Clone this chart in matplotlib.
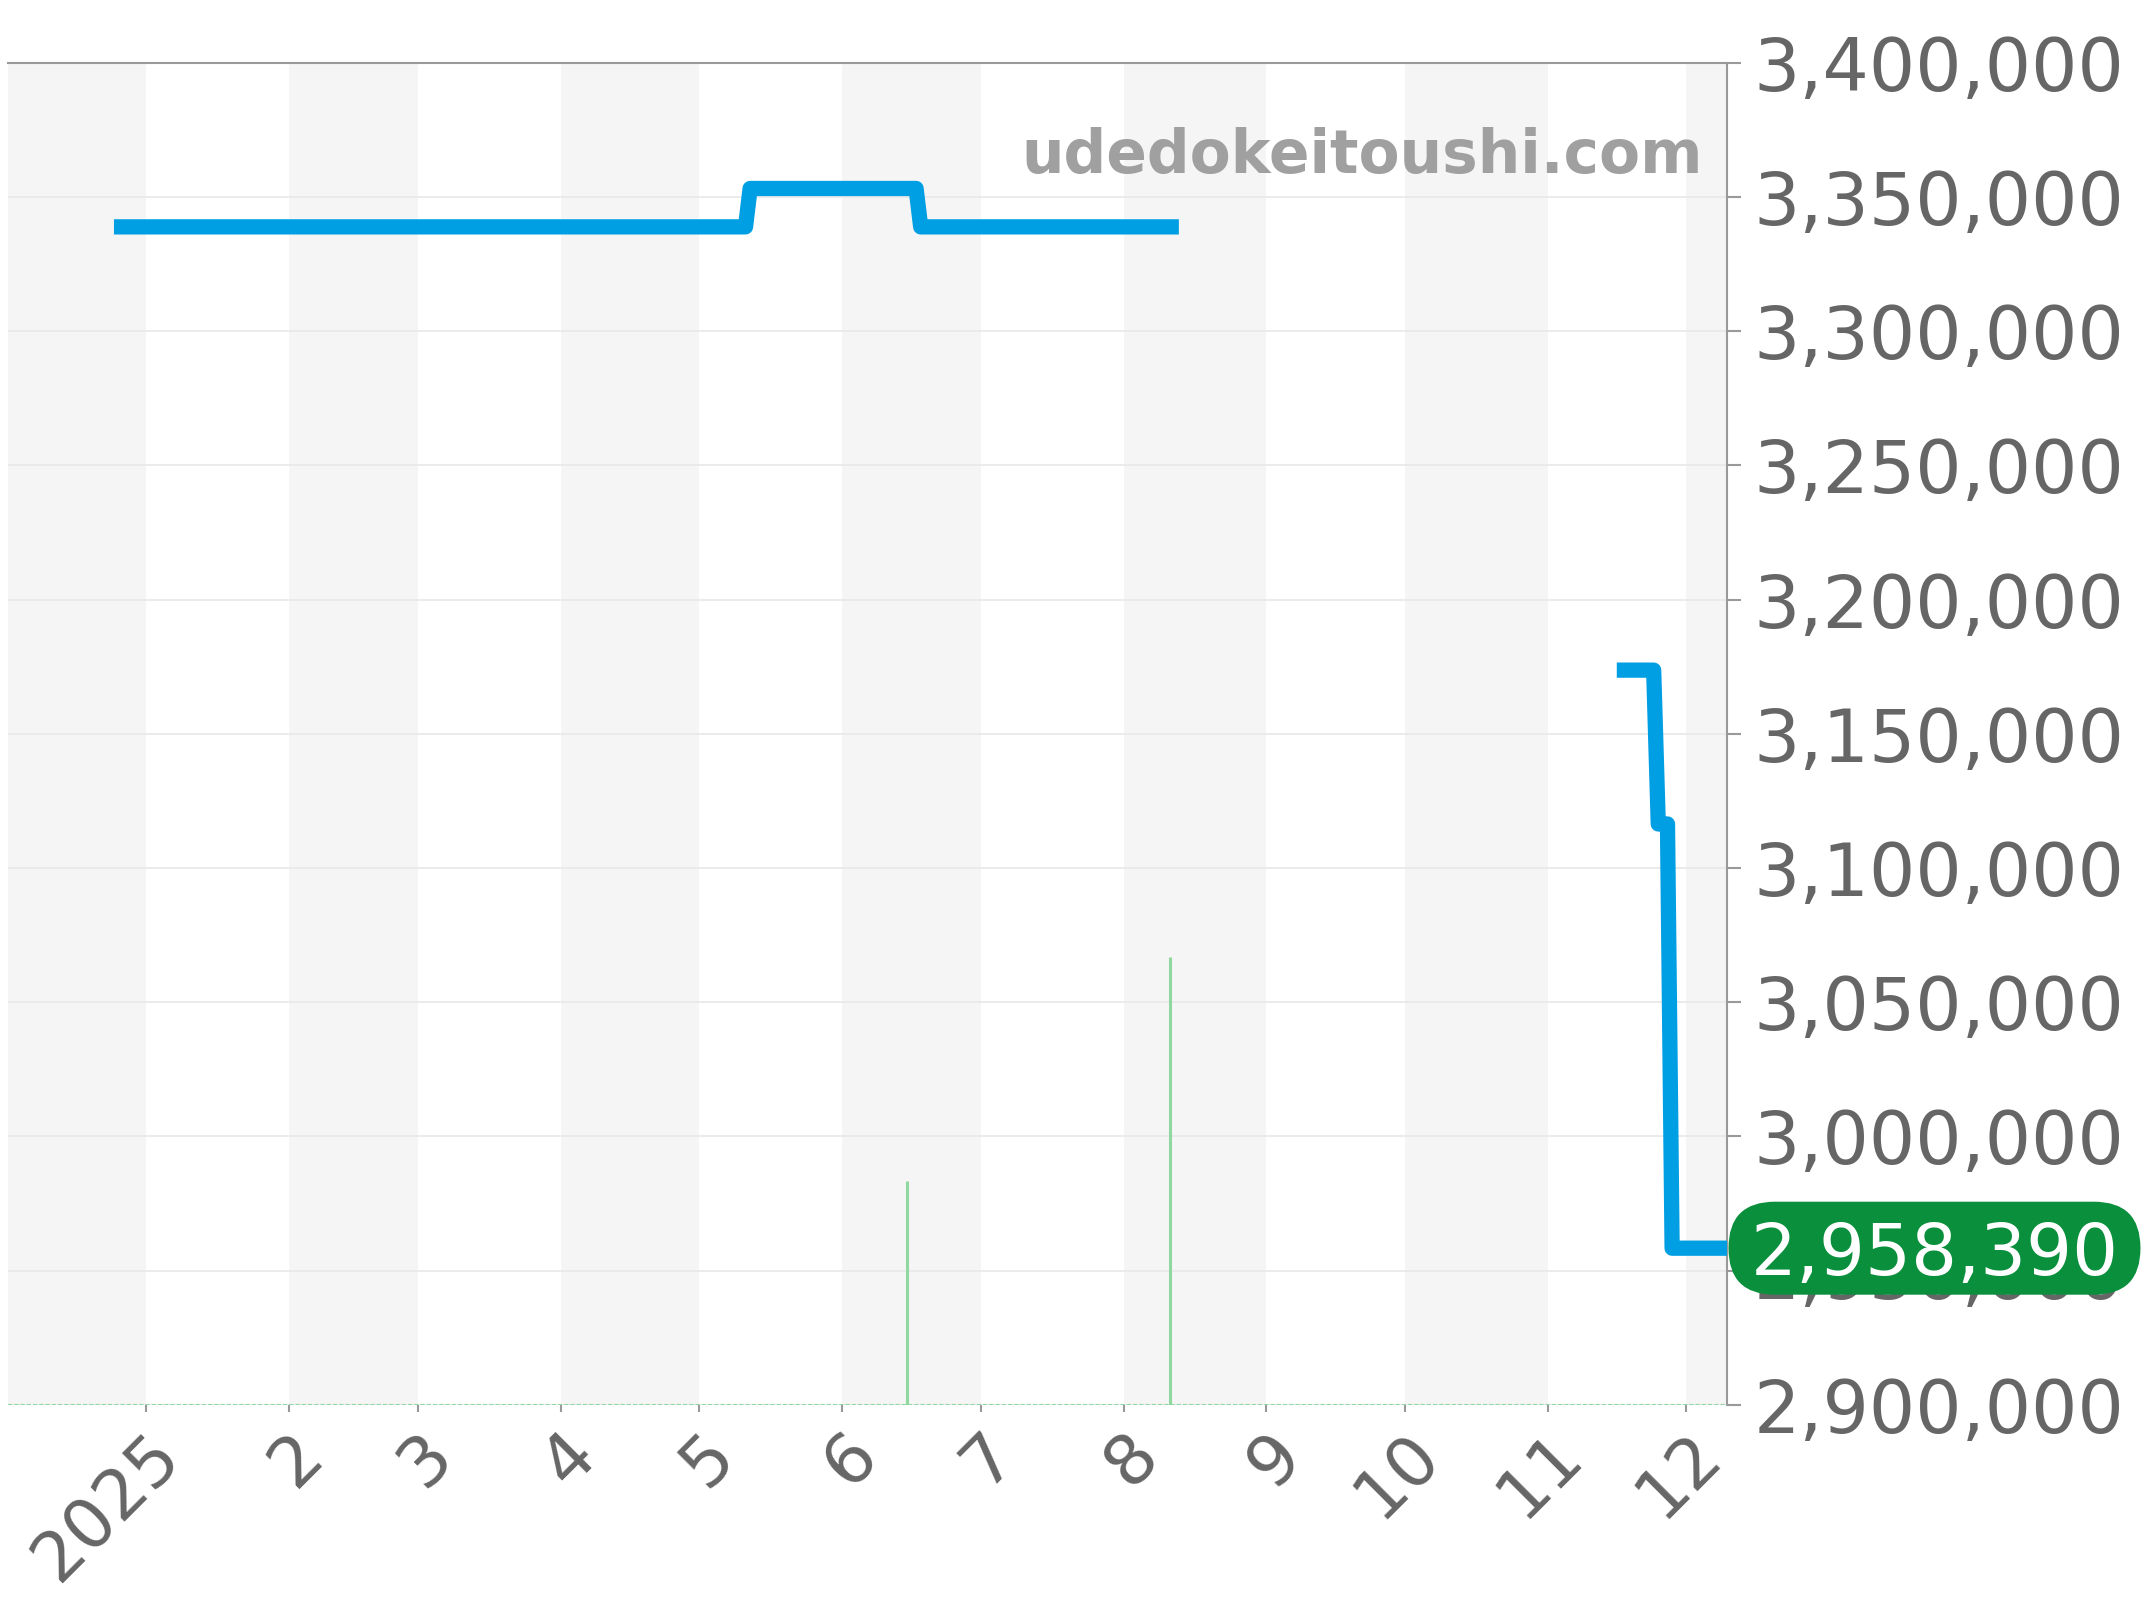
import numpy as np
import matplotlib
matplotlib.use("Agg")
import matplotlib.pyplot as plt
from matplotlib.ticker import FuncFormatter
from matplotlib.patches import FancyBboxPatch
from datetime import datetime

# price history (yen), NaN = no data
price_dates = ["2024-12-25", "2025-05-11", "2025-05-12", "2025-06-17", "2025-06-18",
               "2025-08-13", "2025-08-14", "2025-11-16", "2025-11-24", "2025-11-25",
               "2025-11-27", "2025-11-28", "2025-12-10"]
price_values = [3338800, 3338800, 3353100, 3353100, 3338800,
                3338800, np.nan, 3173700, 3173700, 3116400,
                3116400, 2958390, 2958390]

# trade counts (green bars)
volume_dates = ["2025-06-15", "2025-08-11"]
volume_counts = [1, 2]

month_starts = ["2024-12-01", "2025-01-01", "2025-02-01", "2025-03-01", "2025-04-01",
                "2025-05-01", "2025-06-01", "2025-07-01", "2025-08-01", "2025-09-01",
                "2025-10-01", "2025-11-01", "2025-12-01", "2026-01-01"]
tick_labels = ["2025", "2", "3", "4", "5", "6", "7", "8", "9", "10", "11", "12"]

y_ticks = list(range(2900000, 3400001, 50000))
x_start, x_end = "2024-12-02", "2025-12-10"

to_dt = lambda s: datetime.strptime(s, "%Y-%m-%d")

fig = plt.figure(figsize=(21.44, 16), dpi=100)
ax = fig.add_axes([0.0037, 0.1219, 0.802, 0.839])

# alternating month bands
months = [to_dt(m) for m in month_starts]
for i in range(len(months) - 1):
    if i % 2 == 0:
        ax.axvspan(months[i], months[i + 1], color="#f5f5f5", lw=0, zorder=0)

ax.set_ylim(y_ticks[0], y_ticks[-1])
ax.set_xlim(to_dt(x_start), to_dt(x_end))
ax.set_yticks(y_ticks)
ax.yaxis.set_major_formatter(FuncFormatter(lambda v, p: f"{int(v):,}"))
ax.grid(axis="y", color="#e8e8e8", lw=1.2, zorder=1)
ax.set_xticks(months[1:13])
ax.set_xticklabels(tick_labels)

# volume bars on their own hidden scale
ax2 = ax.twinx()
ax2.set_ylim(0, 6)
ax2.axhline(0, color="#8fd8a0", lw=1.5, ls=(0, (2, 1)))
ax2.vlines([to_dt(d) for d in volume_dates], 0, volume_counts, color="#8fd8a0", lw=2.2)
ax2.set_yticks([])
for s in ax2.spines.values():
    s.set_visible(False)

ax2.plot([to_dt(d) for d in price_dates], price_values, color="#009fe3", lw=11,
         solid_joinstyle="round", solid_capstyle="butt", zorder=5,
         transform=ax.transData)

ax.yaxis.tick_right()
ax.tick_params(axis="y", labelsize=52.5, colors="#999999", labelcolor="#666666",
               length=10, width=1.5, pad=9)
ax.tick_params(axis="x", labelsize=50, colors="#999999", labelcolor="#666666",
               length=5, width=1.5, pad=6)
for lab in ax.get_xticklabels():
    lab.set_rotation(45)
    lab.set_ha("right")
    lab.set_va("top")
    lab.set_rotation_mode("anchor")

for side in ["left", "bottom"]:
    ax.spines[side].set_visible(False)
for side in ["top", "right"]:
    ax.spines[side].set_color("#999999")
    ax.spines[side].set_linewidth(1.5)

ax2.text(0.9855, 0.930, "udedokeitoushi.com", transform=ax.transAxes, ha="right",
         va="center", fontsize=43, fontweight="bold", color="#a0a0a0", zorder=6)

# latest price badge (pill behind the text)
last = price_values[-1]
badge = ax2.annotate(f"{last:,}", xy=(1.0, last), xycoords=ax.get_yaxis_transform(),
                     xytext=(16.6, 0), textcoords="offset points", ha="left",
                     va="center_baseline", fontsize=52, color="white",
                     annotation_clip=False, zorder=10)
fig.canvas.draw()
bb = badge.get_window_extent()
_, yc = ax.transData.transform((0, last))
pad_x, box_h = 22, 93
pill = FancyBboxPatch((bb.x0 - pad_x, yc - box_h / 2), bb.width + 2 * pad_x, box_h,
                      boxstyle=f"round,pad=0,rounding_size={box_h / 2}",
                      transform=None, fc="#0a8f3c", ec="none", zorder=9, clip_on=False)
ax2.add_artist(pill)

fig.savefig("out.png", dpi=100)
